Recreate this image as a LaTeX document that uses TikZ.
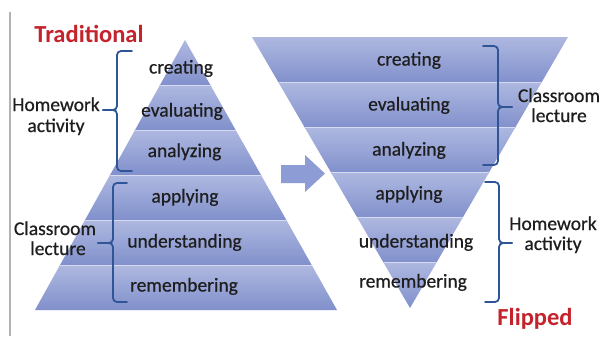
\documentclass[tikz,border=0pt]{standalone}
\usepackage{fontspec}
\setmainfont{Carlito}
\newfontfamily\heavyfont[FakeBold=0.6]{Carlito}
\definecolor{bandtop}{HTML}{AEB8E0}
\definecolor{bandbot}{HTML}{8190CC}
\definecolor{arrowcol}{HTML}{8E9CD5}
\definecolor{bracecol}{HTML}{2F5597}
\definecolor{titlered}{HTML}{C4232C}
\definecolor{txt}{HTML}{1E1E1E}
\tikzset{
  band/.style={top color=bandtop, bottom color=bandbot, draw=none},
  sep/.style={draw=bandtop!50!white, line width=1bp},
  lvl/.style={anchor=base, inner sep=0pt, text=txt, font=\heavyfont\fontsize{19.5bp}{22bp}\selectfont},
  lab/.style={anchor=base, inner sep=0pt, text=txt, font=\heavyfont\fontsize{19.5bp}{22bp}\selectfont},
  ttl/.style={anchor=base, inner sep=0pt, text=titlered, font=\fontsize{24.5bp}{27bp}\selectfont\bfseries},
  brace/.style={draw=bracecol, line width=1.8bp, rounded corners=4bp, line cap=round},
}
\begin{document}
\begin{tikzpicture}[x=1bp, y=-1bp]
\useasboundingbox (0,0) rectangle (601,336);
\fill[white] (0,0) rectangle (601,336);
% left gray rule
\draw[gray!60, line width=1.5bp] (10,12) -- (10,336);
% traditional pyramid
\begin{scope}
  \clip (185,40) -- (337,310) -- (35,310) -- cycle;
  \foreach \t in {40,85,130,175,220,265}
    \shade[band] (30,\t) rectangle (342,\t+45);
  \foreach \t in {85,130,175,220,265}
    \draw[sep] (30,\t) -- (342,\t);
\end{scope}
% flipped pyramid
\begin{scope}
  \clip (252,37) -- (568,37) -- (410,308) -- cycle;
  \foreach \t in {37,82,127,172,217,262}
    \shade[band] (248,\t) rectangle (572,\t+46);
  \foreach \t in {82,127,172,217,262}
    \draw[sep] (248,\t) -- (572,\t);
\end{scope}
% block arrow
\fill[arrowcol] (281,165) -- (305,165) -- (305,155) -- (325,173.5) -- (305,192) -- (305,183) -- (281,183) -- cycle;
% level texts left
\node[lvl] (l1) at (181,73.5) {creating};
\node[lvl] (l2) at (182,116.5) {evaluating};
\node[lvl] (l3) at (184.5,157) {analyzing};
\node[lvl] (l4) at (185,202.5) {applying};
\node[lvl] (l5) at (184.5,247.5) {understanding};
\node[lvl] (l6) at (184,291.5) {remembering};
% level texts right
\node[lvl] (r1) at (409,65.5) {creating};
\node[lvl] (r2) at (409,110.5) {evaluating};
\node[lvl] (r3) at (409,155.5) {analyzing};
\node[lvl] (r4) at (409,199.5) {applying};
\node[lvl] (r5) at (416,247.5) {understanding};
\node[lvl] (r6) at (413,287.5) {remembering};
% titles
\node[ttl] (trad) at (89,42) {Traditional};
\node[ttl] (flip) at (535,325) {Flipped};
% braces
\draw[brace] (132,51) -- (117,51) -- (117,110) -- (103,110);
\draw[brace] (103,110) -- (117,110) -- (117,171) -- (132,171);
\draw[brace] (127,183) -- (113,183) -- (113,243) -- (98,243);
\draw[brace] (98,243) -- (113,243) -- (113,302) -- (127,302);
\draw[brace] (483,46) -- (498,46) -- (498,107) -- (512,107);
\draw[brace] (512,107) -- (498,107) -- (498,165) -- (483,165);
\draw[brace] (485,182) -- (499,182) -- (499,243) -- (512,243);
\draw[brace] (512,243) -- (499,243) -- (499,302) -- (485,302);
% brace labels
\node[lab] (hwL1) at (56,111) {Homework};
\node[lab] (hwL2) at (56,132) {activity};
\node[lab] (clL1) at (55,235) {Classroom};
\node[lab] (clL2) at (58,255) {lecture};
\node[lab] (clR1) at (559,102) {Classroom};
\node[lab] (clR2) at (559,122) {lecture};
\node[lab] (hwR1) at (553,230) {Homework};
\node[lab] (hwR2) at (553,250) {activity};
\end{tikzpicture}
\end{document}
